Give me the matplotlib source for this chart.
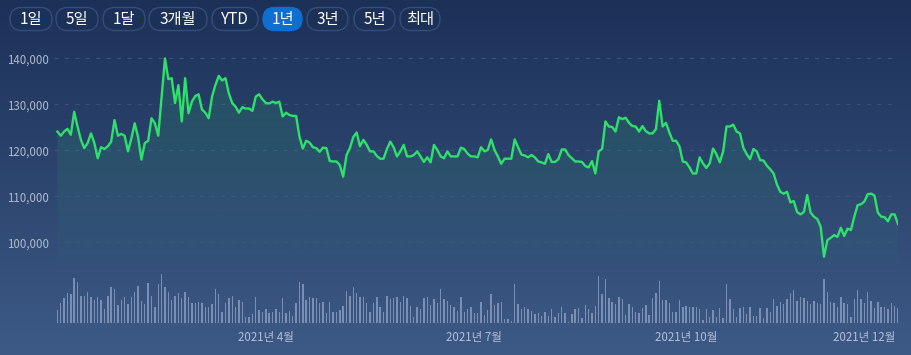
import numpy as np
import matplotlib
matplotlib.use("Agg")
import matplotlib.pyplot as plt
from matplotlib.patches import FancyBboxPatch, Polygon
from matplotlib.colors import to_rgb

plt.rcParams['font.family'] = ['Noto Sans CJK KR', 'DejaVu Sans']
plt.rcParams['lines.scale_dashes'] = False

# close prices (thousand won)
close_k = [
    124.1, 123.2, 124.1, 124.7, 123.4, 128.4, 125.2, 122.3, 120.5, 121.6, 123.7, 121.6, 118.3, 120.7,
    120.3, 120.9, 121.9, 126.6, 123.2, 123.6, 123.2, 119.8, 122.6, 125.9, 122.9, 118.0, 121.6, 122.1,
    127.0, 125.9, 123.2, 131.7, 140.0, 135.5, 135.7, 130.3, 134.2, 126.3, 135.7, 128.1, 130.6, 131.8,
    132.2, 128.9, 128.2, 127.0, 131.7, 134.2, 136.2, 135.2, 135.7, 132.4, 130.3, 129.5, 128.2, 129.4,
    129.1, 129.1, 128.6, 131.7, 132.2, 131.1, 130.3, 130.2, 130.6, 130.3, 130.6, 127.4, 128.2, 127.7,
    127.5, 127.5, 123.0, 120.4, 122.1, 121.7, 120.7, 120.5, 119.7, 120.6, 120.5, 117.7, 117.6,
    117.6, 116.8, 114.3, 119.0, 120.5, 122.9, 123.9, 120.9, 122.3, 121.2, 119.8, 119.8, 118.8, 118.2,
    118.2, 120.3, 121.9, 120.7, 118.7, 119.8, 121.2, 118.7, 118.7, 119.0, 119.8, 118.7, 117.5, 118.5,
    117.4, 121.2, 120.1, 118.7, 118.3, 119.8, 118.7, 118.7, 118.7, 120.6, 120.3, 119.3, 118.7, 118.7,
    118.5, 120.7, 119.8, 120.1, 122.4, 120.1, 118.7, 117.1, 118.2, 118.2, 118.2, 122.4, 120.7, 119.1,
    118.9, 118.5, 119.0, 118.5, 117.6, 117.4, 117.1, 119.2, 117.5, 117.5, 118.1, 120.2, 120.2, 119.0,
    118.3, 117.6, 117.6, 117.5, 116.6, 116.3, 117.7, 115.0, 119.8, 120.3, 126.3, 125.2, 125.1, 124.1, 127.2,
    126.8, 127.1, 126.0, 125.3, 125.2, 124.1, 125.3, 124.2, 123.7, 123.7, 124.6, 130.8, 125.2, 126.0,
    123.9, 122.1, 122.1, 120.9, 117.6, 117.4, 116.3, 115.0, 115.0, 118.5, 117.2, 116.2, 117.2, 120.4,
    119.2, 117.4, 119.8, 125.2, 125.2, 125.6, 124.1, 123.7, 120.6, 119.2, 118.1, 120.3, 119.8,
    117.9, 117.8, 116.7, 115.9, 115.0, 112.6, 111.0, 110.6, 111.0, 108.7, 109.0, 106.6, 106.1, 106.6,
    110.3, 106.5, 105.6, 105.1, 103.4, 96.9, 100.5, 101.0, 101.6, 101.2, 103.2, 101.4, 103.0, 102.7,
    105.6, 108.1, 108.3, 108.9, 110.5, 110.6, 110.2, 106.5, 105.6, 105.5, 104.6, 106.1, 106.1, 104.0,
]

# volume, relative units (bar heights)
volume = [
    13, 19.7, 24.7, 29.7, 28.7, 44.7, 40.7, 27.3, 27, 30.7, 25.7, 23, 25.7, 23, 13.7, 27.3, 35.7, 34,
    18, 23, 25.7, 18.7, 26.3, 31, 36.7, 22.3, 18.7, 39.7, 27, 16.3, 38.7, 48.7, 35.7, 31.3, 23, 27.3,
    29.7, 24.7, 30.7, 26.3, 19.7,
    19.7, 20.7, 19.7, 15.7, 16.3, 18.7, 34, 28.7, 10.7, 19.7, 24.7, 27.3, 16.3, 23, 21.3, 6.3, 6.3,
    8.7, 25.7, 13, 11.3, 13.7, 9.7, 10.7, 13.7, 10.7, 24.7, 9.7, 12, 7.3, 19.7, 40.7, 38.7, 23, 26.3,
    24.7, 24.7, 19.7, 21.3, 9.7, 21.3, 11.3,
    11.3, 13, 17.3, 32, 27.3, 36.3, 29.7, 25.7, 25.7, 20.3, 10.7, 19.7, 26.3, 15.7, 11.3, 27.3, 23.7,
    24.7, 25.7, 21.3, 27.3, 24.7, 17.3, 5.7, 16.3, 13.7, 24.7, 25.7, 18, 23.7, 19.7, 33.7, 23.7, 22,
    18, 16.3, 12, 25.7, 11.3, 13.7, 16.3, 9.7,
    9.7, 21.3, 8, 13, 28.7, 18, 19.7, 21.3, 3.7, 3.7, 2.3, 38.7, 18.7, 13.7, 15.7, 13.7, 12.3, 8.7,
    9.7, 7, 10.7, 7.3, 13.7, 6.3, 10.3, 15.7, 10.3, 1.3, 9, 14.3, 14.7, 4.7, 18, 13.7, 9.7, 17, 47.3,
    28.7, 43.7, 24.7, 20.7, 18.7, 26.3,
    23.7, 8, 18.7, 15.7, 11.3, 10.3, 15.3, 18.3, 8, 24.7, 29.7, 42, 23, 23, 19.7, 10.7, 10.7, 23,
    15.7, 17.3, 15.7, 15.7, 15.7, 13.7, 3, 13.7, 6.3, 13, 6.3, 14.7, 4.7, 38.7, 23.7, 13.7, 6.3, 14.7,
    16.3, 9, 15.7, 7.3, 7.3,
    14.7, 4.7, 14.7, 11.3, 23.7, 17.3, 20.7, 19, 23.7, 29.7, 33, 22.3, 25.7, 24.7, 22.3, 19, 22.3,
    19.7, 19, 43.7, 30.7, 20.7, 19.7, 15.7, 25.7, 19.7, 18.7, 6.3, 23.7, 33, 23.7, 19.7, 30.7, 22.3,
    14.7, 20.7, 16.3, 16.3, 13.7, 19.7, 17, 15.3,
]

y_ticks = [100000, 110000, 120000, 130000, 140000]
x_tick_pos = [62, 124, 187, 240]
x_tick_labels = ['2021년 4월', '2021년 7월', '2021년 10월', '2021년 12월']

buttons = ['1일', '5일', '1달', '3개월', 'YTD', '1년', '3년', '5년', '최대']
button_x = [10, 56, 103, 149, 212, 263, 307, 354, 400]
button_w = [42, 42, 42, 58, 46, 39, 41, 41, 40]
selected = '1년'

close = np.array(close_k) * 1000
x = np.arange(len(close))
xv = np.arange(len(volume))

W, H = 912, 355
fig = plt.figure(figsize=(W / 100, H / 100), dpi=100)

# background gradient + buttons, in pixel coordinates
bg = fig.add_axes([0, 0, 1, 1])
bg.set_xlim(0, W)
bg.set_ylim(H, 0)
bg.axis('off')
top_c = np.array(to_rgb('#1c3158'))
bot_c = np.array(to_rgb('#3d5a86'))
t = np.linspace(0, 1, 256)[:, None, None]
grad = top_c * (1 - t) + bot_c * t
bg.imshow(grad, extent=[0, W, H, 0], aspect='auto', zorder=0)

for name, bx, bw in zip(buttons, button_x, button_w):
    sel = name == selected
    pill = FancyBboxPatch((bx, 7.5), bw, 23, boxstyle='round,pad=0,rounding_size=11.5',
                          facecolor='#0f6fcf' if sel else '#1c3158',
                          edgecolor='#0f6fcf' if sel else '#344e78', lw=1, zorder=2)
    bg.add_patch(pill)
    bg.text(bx + bw / 2, 19.5, name, color='white', fontsize=11, fontweight='medium',
            ha='center', va='center', zorder=3)

def px_axes(left, top, right, bottom):
    return fig.add_axes([left / W, 1 - bottom / H, (right - left) / W, (bottom - top) / H])

# price axes
ax = px_axes(54, 40, 898, 265)
ax.set_facecolor('none')
y_lo, y_hi = 95100, 144000
ax.set_xlim(-1, len(close) - 1)
ax.set_ylim(y_lo, y_hi)

for yt in y_ticks:
    ax.axhline(yt, color='#3b5179', lw=0.9, ls=(0, (3, 4.5)), zorder=1)

# soft green fill under the line, fading downwards
verts = [(x[0], y_lo)] + list(zip(x, close)) + [(x[-1], y_lo)]
clip = Polygon(verts, closed=True, facecolor='none', edgecolor='none')
ax.add_patch(clip)
green = np.array(to_rgb('#2fe06c'))
fill_img = np.zeros((256, 1, 4))
fill_img[..., :3] = green
fill_img[..., 3] = np.linspace(0.17, 0.02, 256)[:, None]
im = ax.imshow(fill_img, extent=[x[0], x[-1], y_lo, y_hi], origin='upper', aspect='auto',
               zorder=2, interpolation='bilinear')
im.set_clip_path(clip)
ax.set_xlim(-1, len(close) - 1)
ax.set_ylim(y_lo, y_hi)

ax.plot(x, close, color='#2fe06c', lw=1.7, zorder=3, solid_joinstyle='round')

ax.set_yticks(y_ticks, [f'{v:,}' for v in y_ticks])
ax.tick_params(axis='y', length=0, pad=3.5, labelcolor='#aeb9cd', labelsize=8.3)
ax.set_xticks([])
for s in ax.spines.values():
    s.set_visible(False)

# volume axes
axv = px_axes(54, 270, 898, 323)
axv.set_facecolor('none')
axv.bar(xv, volume, width=0.42, color='#8799bd', alpha=0.85, zorder=2)
axv.set_xlim(-1, len(close) - 1)
axv.set_ylim(0, 53)
axv.set_yticks([])
axv.set_xticks(x_tick_pos, x_tick_labels)
axv.tick_params(axis='x', length=0, pad=6, labelcolor='#b3bed2', labelsize=8.3)
for s in axv.spines.values():
    s.set_visible(False)

fig.savefig('out.png', dpi=100)
